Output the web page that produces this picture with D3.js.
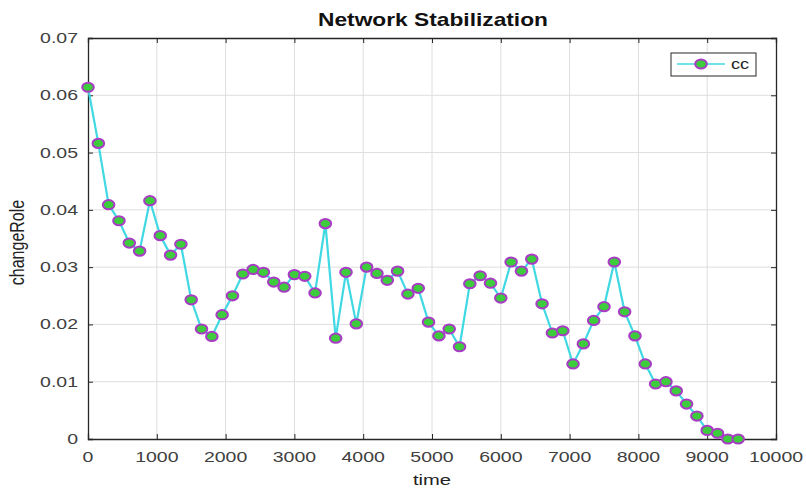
<!DOCTYPE html>
<html>
<head>
<meta charset="utf-8">
<script src="https://cdn.jsdelivr.net/npm/d3@7"></script>
<style>
  html, body { margin: 0; padding: 0; background: #fff; }
  svg { display: block; }
  text { font-family: "Liberation Sans", Arial, sans-serif; }
</style>
</head>
<body>
<svg id="chart" width="806" height="489"></svg>
<script>
// Sample times (step 150) and changeRole values for series "cc"
const times = d3.range(0, 9451, 150);
const ccValues = [
  0.0614, 0.0516, 0.0409, 0.0381, 0.0342, 0.0328, 0.0416, 0.0355, 0.0321, 0.0340,
  0.0243, 0.0192, 0.0179, 0.0217, 0.0250, 0.0288, 0.0296, 0.0291, 0.0274, 0.0265,
  0.0287, 0.0284, 0.0255, 0.0376, 0.0176, 0.0291, 0.0201, 0.0300, 0.0289, 0.0277,
  0.0293, 0.0253, 0.0263, 0.0204, 0.0180, 0.0192, 0.0161, 0.0271, 0.0285, 0.0272,
  0.0246, 0.0309, 0.0293, 0.0314, 0.0236, 0.0185, 0.0189, 0.0131, 0.0166, 0.0207,
  0.0231, 0.0309, 0.0222, 0.0180, 0.0131, 0.0096, 0.0100, 0.0084, 0.0061, 0.0040,
  0.0015, 0.0010, 0.0000, 0.0000
];
const xTicks = d3.range(0, 10001, 1000);
const yTicks = [0, 0.01, 0.02, 0.03, 0.04, 0.05, 0.06, 0.07];
const yTickLabels = ["0", "0.01", "0.02", "0.03", "0.04", "0.05", "0.06", "0.07"];
const seriesName = "cc";

const svg = d3.select("#chart");
const plotL = 88, plotR = 776, plotT = 38, plotB = 439;
const sx = 1.3; // horizontal stretch applied to glyphs

const x = d3.scaleLinear().domain([0, 10000]).range([plotL, plotR]);
const y = d3.scaleLinear().domain([0, 0.07]).range([plotB, plotT]);

const lineCol = "#40d8e2", fillCol = "#3ccc3c", edgeCol = "#a83cc4";
const axisCol = "#262626", textCol = "#404040";

function stretchedText(g, tx, ty, str) {
  return g.append("text")
    .attr("transform", `translate(${tx},${ty}) scale(${sx},1)`)
    .text(str);
}

// grid
const grid = svg.append("g");
grid.selectAll(".gx").data(xTicks.slice(1, -1)).join("line")
  .attr("x1", d => x(d)).attr("x2", d => x(d))
  .attr("y1", plotT).attr("y2", plotB)
  .attr("stroke", "#dedede").attr("stroke-width", 1);
grid.selectAll(".gy").data(yTicks.slice(1, -1)).join("line")
  .attr("y1", d => y(d)).attr("y2", d => y(d))
  .attr("x1", plotL).attr("x2", plotR)
  .attr("stroke", "#dedede").attr("stroke-width", 1);

// axes via d3 axis generators (inward ticks on all four sides)
const axB = d3.axisBottom(x).tickValues(xTicks).tickSize(-5).tickFormat("");
const axT = d3.axisTop(x).tickValues(xTicks).tickSize(-5).tickFormat("");
const axL = d3.axisLeft(y).tickValues(yTicks).tickSize(-5).tickFormat("");
const axR = d3.axisRight(y).tickValues(yTicks).tickSize(-5).tickFormat("");
[[axB, `translate(0,${plotB})`], [axT, `translate(0,${plotT})`],
 [axL, `translate(${plotL},0)`], [axR, `translate(${plotR},0)`]].forEach(([ax, tr]) => {
  const g = svg.append("g").attr("transform", tr).call(ax);
  g.select(".domain").attr("stroke", axisCol).attr("stroke-width", 1.3);
  g.selectAll(".tick line").attr("stroke", axisCol).attr("stroke-width", 1);
});

// tick labels
const tl = svg.append("g").attr("fill", textCol).attr("font-size", 15);
xTicks.forEach(t => stretchedText(tl, x(t), 462, d3.format("d")(t)).attr("text-anchor", "middle"));
yTicks.forEach((t, i) => stretchedText(tl, 78, y(t) + 5, yTickLabels[i]).attr("text-anchor", "end"));

// titles
stretchedText(svg, 433, 26, "Network Stabilization")
  .attr("text-anchor", "middle").attr("font-size", 17.5).attr("font-weight", "bold").attr("fill", "#111");
stretchedText(svg, 432, 485, "time")
  .attr("text-anchor", "middle").attr("font-size", 15.5).attr("fill", "#222");
svg.append("text")
  .attr("transform", `translate(24,${(plotT + plotB) / 2 + 4}) scale(${sx},1) rotate(-90)`)
  .attr("text-anchor", "middle").attr("font-size", 16).attr("fill", "#222")
  .text("changeRole");

// series
const data = times.map((t, i) => ({ t, v: ccValues[i] }));
svg.append("path").datum(data)
  .attr("fill", "none").attr("stroke", lineCol).attr("stroke-width", 2.2)
  .attr("d", d3.line().x(d => x(d.t)).y(d => y(d.v)));
svg.append("g").selectAll("ellipse").data(data).join("ellipse")
  .attr("cx", d => x(d.t)).attr("cy", d => y(d.v))
  .attr("rx", 5.8).attr("ry", 4.6)
  .attr("fill", fillCol).attr("stroke", edgeCol).attr("stroke-width", 2);

// legend
const lg = svg.append("g");
lg.append("rect").attr("x", 671).attr("y", 53).attr("width", 85).attr("height", 23)
  .attr("fill", "#fff").attr("stroke", axisCol).attr("stroke-width", 1);
lg.append("line").attr("x1", 677).attr("x2", 725).attr("y1", 64).attr("y2", 64)
  .attr("stroke", lineCol).attr("stroke-width", 1.5);
lg.append("ellipse").attr("cx", 701).attr("cy", 64).attr("rx", 5.8).attr("ry", 4.6)
  .attr("fill", fillCol).attr("stroke", edgeCol).attr("stroke-width", 2);
stretchedText(lg, 731, 69, seriesName).attr("font-size", 14).attr("fill", "#222");
</script>
</body>
</html>
